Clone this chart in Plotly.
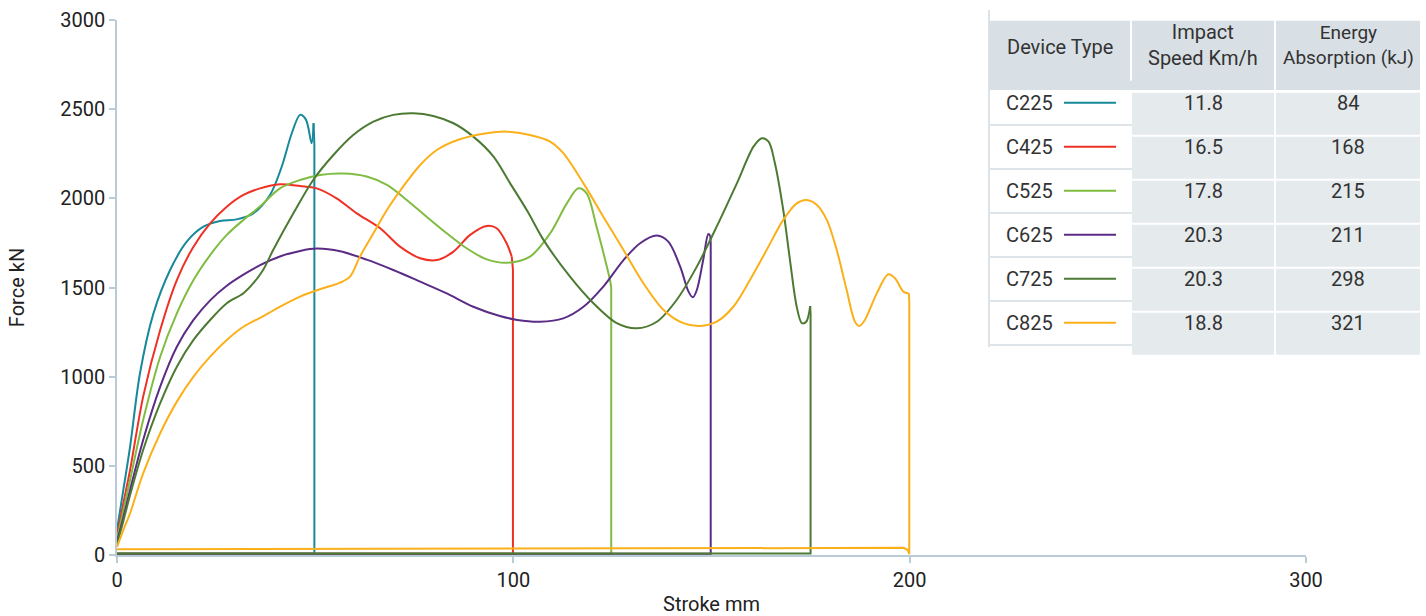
import plotly.graph_objects as go

# ---------------- data ----------------
devices = ["C225", "C425", "C525", "C625", "C725", "C825"]
impact_speed = ["11.8", "16.5", "17.8", "20.3", "20.3", "18.8"]
energy_absorption = ["84", "168", "215", "211", "298", "321"]
colors = ["#17899a", "#ee3124", "#80bc41", "#5b2c86", "#4d7a33", "#fbb01a"]

c225_x = [0, 1.6, 3.3, 5.8, 9.2, 13.4, 17.6, 21.8, 26, 30.2, 34.4, 38.6, 41.6, 44.1, 46.2, 47.7, 49.1, 49.6]
c225_f = [140, 365, 607, 1019, 1355, 1598, 1757, 1841, 1873, 1882, 1916, 2019, 2180, 2365, 2468, 2440, 2309, 2421]
c225_tail_x = [49.6, 49.8, 49.8, 0]
c225_tail_f = [2421, 2300, 7, 7]

c425_x = [0, 1.6, 3.3, 6.6, 10.9, 15.1, 19.3, 23.5, 27.7, 31.9, 36.1, 41.1, 46.2, 50.4, 55.4, 60.5, 66.4, 71.4,
          76.5, 80.7, 84.9, 89.1, 93.3, 95.8, 98.3, 99.6]
c425_f = [110, 290, 477, 888, 1262, 1542, 1729, 1860, 1953, 2019, 2056, 2079, 2069, 2056, 2000, 1916, 1832, 1729,
          1664, 1654, 1701, 1795, 1845, 1832, 1748, 1673]
c425_tail_x = [99.6, 99.9, 99.9, 0]
c425_tail_f = [1673, 1600, 7, 7]

c525_x = [0, 1.6, 3.3, 6.6, 10.9, 15.1, 19.3, 23.5, 27.7, 31.9, 36.1, 41.1, 46.2, 51.2, 57.1, 63, 68.1, 73.1, 78.1,
          83.2, 88.2, 93.3, 98.3, 104.2, 109.3, 113.5, 116.4, 118.5, 121, 123.6, 124.4]
c525_f = [90, 250, 421, 757, 1112, 1355, 1542, 1682, 1795, 1879, 1955, 2056, 2103, 2131, 2139, 2122, 2075, 1991, 1897,
          1804, 1720, 1658, 1639, 1673, 1804, 1972, 2056, 2028, 1841, 1617, 1542]
c525_tail_x = [124.4, 124.7, 124.7, 0]
c525_tail_f = [1542, 1500, 7, 7]

c625_x = [0, 1.6, 3.3, 6.6, 10.9, 15.1, 19.3, 23.5, 27.7, 31.9, 36.1, 41.1, 46.2, 50.4, 56.3, 63, 69.7, 76.5, 83.2,
          89.9, 96.6, 101, 106.7, 112.6, 117.7, 122.7, 127.8, 132, 136.2, 139.1, 142.1, 144.2, 145.3, 146.3, 147.9,
          149.2, 149.7]
c625_f = [75, 210, 365, 645, 944, 1168, 1318, 1428, 1510, 1572, 1625, 1674, 1705, 1718, 1703, 1656, 1598, 1533, 1467,
          1392, 1340, 1318, 1308, 1327, 1392, 1505, 1654, 1748, 1791, 1757, 1617, 1477, 1445, 1486, 1654,
          1800, 1790]
c625_tail_x = [149.7, 149.8, 149.8, 0]
c625_tail_f = [1790, 1750, 7, 7]

c725_x = [0, 1.6, 3.3, 6.6, 10.9, 15.1, 19.3, 23.5, 27.7, 31.9, 34.4, 36.9, 39.4, 44.5, 49.5, 54.6, 59.6, 64.7, 69.7,
          74.8, 79.8, 84.9, 89.9, 95, 99.2, 103.5, 107.6, 114.3, 120.2, 126.1, 131.1, 136.2, 141.2, 146.3, 151.3,
          156.4, 160.6, 162.7, 164.4, 166, 168.1, 169.8, 171.5, 172.8, 173.9, 174.9]
c725_f = [60, 190, 336, 589, 851, 1056, 1206, 1318, 1412, 1468, 1524, 1600, 1710, 1916, 2103, 2243, 2355, 2430, 2468,
          2477, 2462, 2421, 2346, 2234, 2084, 1930, 1767, 1561, 1412, 1300, 1271, 1308, 1430, 1617, 1841,
          2084, 2290, 2337, 2318, 2197, 1935, 1654, 1392, 1300, 1308, 1396]
c725_tail_x = [174.9, 175.0, 175.0, 0]
c725_tail_f = [1396, 1350, 9, 9]

c825_x = [0, 1.6, 3.3, 6.6, 10.9, 15.1, 19.3, 23.5, 27.7, 31.9, 36.1, 41.1, 46.2, 51.2, 56.3, 58.8, 61.3, 64.7, 68.1,
          72.2, 76.5, 80.7, 86.5, 93.3, 98.3, 104.2, 109.3, 112.6, 117.7, 122.7, 127.8, 132.8, 137.9, 142.9, 147.1,
          151.3, 155.5, 159.7, 163.9, 168.1, 171.5, 174, 176.6, 179.1, 181.6, 184.1, 186.2, 187.3, 188.7, 191.7,
          194.6, 196.3, 198.4, 199.8]
c825_f = [45, 140, 234, 458, 683, 860, 1000, 1112, 1206, 1280, 1330, 1392, 1449, 1490, 1527, 1561, 1673, 1804, 1935,
          2066, 2187, 2271, 2331, 2365, 2374, 2355, 2318, 2253, 2084, 1897, 1710, 1524, 1374, 1300, 1284,
          1308, 1392, 1542, 1710, 1879, 1972, 1991, 1963, 1879, 1710, 1486, 1308, 1284, 1318, 1467,
          1574, 1552, 1477, 1467]
c825_tail_x = [199.8, 199.9, 199.9, 199.5, 198.5, 100, 0]
c825_tail_f = [1467, 1420, 5, 28, 40, 37, 32]

curves = [
    (c225_x, c225_f, c225_tail_x, c225_tail_f),
    (c425_x, c425_f, c425_tail_x, c425_tail_f),
    (c525_x, c525_f, c525_tail_x, c525_tail_f),
    (c625_x, c625_f, c625_tail_x, c625_tail_f),
    (c725_x, c725_f, c725_tail_x, c725_tail_f),
    (c825_x, c825_f, c825_tail_x, c825_tail_f),
]

x_ticks = [0, 100, 200, 300]
y_ticks = [0, 500, 1000, 1500, 2000, 2500, 3000]

# ---------------- figure ----------------
W, H = 1426, 616
L, R, T, B = 117, 120, 20, 61
PW, PH = W - L - R, H - T - B

FONT = "Roboto, 'Noto Sans', sans-serif"
FS = 20
AXIS_COLOR = "#b9cbd6"
TEXT_COLOR = "#222222"
TABLE_TEXT = "#333333"

fig = go.Figure()
for (cx, cf, tx, tf), name, col in zip(curves, devices, colors):
    fig.add_trace(go.Scatter(x=cx, y=cf, mode="lines", name=name,
                             line=dict(color=col, width=2, shape="spline", smoothing=0.9),
                             showlegend=False, cliponaxis=False, hoverinfo="skip"))
    fig.add_trace(go.Scatter(x=tx, y=tf, mode="lines", name=name,
                             line=dict(color=col, width=2, shape="linear"),
                             showlegend=False, cliponaxis=False, hoverinfo="skip"))


def px2x(px):
    return (px - L) / PW


def py2y(py):
    return (H - B - py) / PH


shapes = []
annotations = []


def text(s, px, py, anchor="center", size=FS):
    annotations.append(dict(text=s, xref="paper", yref="paper", x=px2x(px), y=py2y(py),
                            xanchor=anchor, yanchor="middle", showarrow=False,
                            font=dict(family=FONT, size=size, color=TABLE_TEXT)))


# table left border
shapes.append(dict(type="line", xref="paper", yref="paper", x0=px2x(989), x1=px2x(989),
                   y0=py2y(10), y1=py2y(347), line=dict(color="#dde2e6", width=2)))
# header background
shapes.append(dict(type="rect", xref="paper", yref="paper", x0=px2x(989), x1=px2x(1420),
                   y0=py2y(90), y1=py2y(20.7), fillcolor="#d9e0e5", line=dict(width=0), layer="above"))
shapes.append(dict(type="line", xref="paper", yref="paper", x0=px2x(1131), x1=px2x(1131),
                   y0=py2y(80.7), y1=py2y(20.7), line=dict(color="white", width=2)))
shapes.append(dict(type="line", xref="paper", yref="paper", x0=px2x(1275), x1=px2x(1275),
                   y0=py2y(90), y1=py2y(20.7), line=dict(color="white", width=2)))

row_h = 44
for i, (dev, sp, en, col) in enumerate(zip(devices, impact_speed, energy_absorption, colors)):
    top = 92.7 + row_h * i
    for (x0, x1) in [(1132, 1274), (1276, 1420)]:
        shapes.append(dict(type="rect", xref="paper", yref="paper", x0=px2x(x0), x1=px2x(x1),
                           y0=py2y(top + row_h - 2), y1=py2y(top), fillcolor="#e5eaed",
                           line=dict(width=0), layer="above"))
    sep = 125 + row_h * i
    shapes.append(dict(type="line", xref="paper", yref="paper", x0=px2x(989), x1=px2x(1132),
                       y0=py2y(sep), y1=py2y(sep), line=dict(color="#dfe4e8", width=2)))
    ty = 102.7 + row_h * i
    shapes.append(dict(type="line", xref="paper", yref="paper", x0=px2x(1064), x1=px2x(1116),
                       y0=py2y(ty), y1=py2y(ty), line=dict(color=col, width=2)))
    text(dev, 1004, ty, anchor="left")
    text(sp, 1203, ty)
    text(en, 1348, ty)

text("Device Type", 1060, 47)
text("Impact<br>Speed Km/h", 1203, 45)
text("Energy<br>Absorption (kJ)", 1348, 45, size=19)

fig.update_layout(
    width=W, height=H,
    margin=dict(l=L, r=R, t=T, b=B, pad=0, autoexpand=False),
    paper_bgcolor="white", plot_bgcolor="white",
    font=dict(family=FONT, size=FS, color=TEXT_COLOR),
    shapes=shapes, annotations=annotations,
    showlegend=False, hovermode=False,
    xaxis=dict(range=[0, 300], tickvals=x_ticks, ticktext=[str(v) for v in x_ticks],
               automargin=False,
               showgrid=False, zeroline=False, showline=True, linecolor=AXIS_COLOR, linewidth=1.5,
               ticks="outside", ticklen=6, tickcolor=AXIS_COLOR, tickwidth=1.5,
               tickfont=dict(family=FONT, size=FS, color=TEXT_COLOR),
               title=dict(text="Stroke mm", standoff=8, font=dict(family=FONT, size=FS, color=TEXT_COLOR))),
    yaxis=dict(range=[0, 3000], tickvals=y_ticks, ticktext=[str(v) for v in y_ticks],
               automargin=False,
               showgrid=False, zeroline=False, showline=True, linecolor=AXIS_COLOR, linewidth=1.5,
               ticks="outside", ticklen=6, tickcolor=AXIS_COLOR, tickwidth=1.5,
               tickfont=dict(family=FONT, size=FS, color=TEXT_COLOR),
               title=dict(text="Force kN", standoff=30, font=dict(family=FONT, size=FS, color=TEXT_COLOR))),
)

fig.write_html("out.html", config={"displayModeBar": False},
               post_script="document.body.style.margin='0px';")
